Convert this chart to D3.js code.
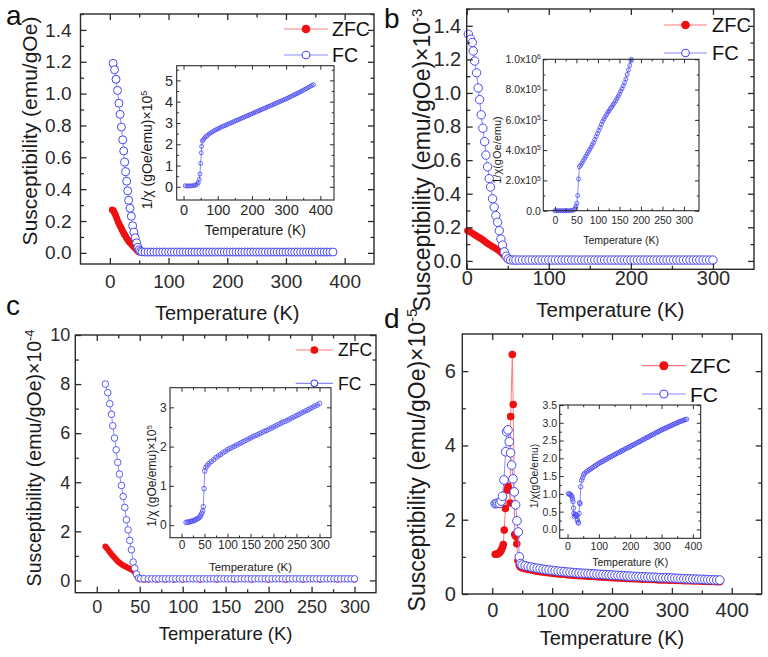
<!DOCTYPE html>
<html>
<head>
<meta charset="utf-8">
<script src="https://cdn.jsdelivr.net/npm/d3@7"></script>
<style>
  body { margin: 0; background: #fff; }
  svg { font-family: "Liberation Sans", Arial, sans-serif; }
</style>
</head>
<body>
<svg id="fig" width="768" height="657"></svg>
<script>
// ---- data: [temperature (K), value] ----
// panel a  (emu/gOe)
const aZfc = [[4,0.27],[6,0.265],[8,0.25],[10,0.235],[12,0.215],[14,0.195],[16,0.18],[18,0.165],[20,0.15],[22,0.135],[24,0.12],[26,0.11],[28,0.095],[30,0.085],[32,0.075],[34,0.065],[36,0.058],[38,0.05],[40,0.042],[42,0.035],[44,0.027],[46,0.018],[48,0.01],[50,0.005],[53,0.002],[60,0.001],[70,0.001],[80,0.001],[90,0.001],[100,0.001],[120,0.001],[140,0.001],[160,0.001],[180,0.001],[200,0.001],[220,0.001],[240,0.001],[260,0.001],[280,0.001],[300,0.001],[320,0.001],[340,0.001],[360,0.001],[380,0.001]]
const aFc = [[5.6,1.19],[8,1.15],[10.5,1.09],[13,1.02],[15.5,0.94],[17.5,0.87],[19.7,0.79],[22,0.71],[23.6,0.64],[25.3,0.57],[27,0.51],[28.7,0.45],[30.4,0.39],[32,0.33],[34.3,0.28],[36.6,0.23],[38.9,0.17],[41,0.13],[43.3,0.095],[45.6,0.063],[47.8,0.035],[50,0.019],[52.4,0.01],[55,0.006],
  [60,0.005],[65,0.005],[70,0.005],[75,0.005],[80,0.005],[85,0.005],[90,0.005],[95,0.005],[100,0.005],[105,0.005],[110,0.005],[115,0.005],[120,0.005],[125,0.005],[130,0.005],[135,0.005],[140,0.005],[145,0.005],[150,0.005],[155,0.005],[160,0.005],[165,0.005],[170,0.005],[175,0.005],[180,0.005],[185,0.005],[190,0.005],[195,0.005],[200,0.005],[205,0.005],[210,0.005],[215,0.005],[220,0.005],[225,0.005],[230,0.005],[235,0.005],[240,0.005],[245,0.005],[250,0.005],[255,0.005],[260,0.005],[265,0.005],[270,0.005],[275,0.005],[280,0.005],[285,0.005],[290,0.005],[295,0.005],[300,0.005],[305,0.005],[310,0.005],[315,0.005],[320,0.005],[325,0.005],[330,0.005],[335,0.005],[340,0.005],[345,0.005],[350,0.005],[355,0.005],[360,0.005],[365,0.005],[370,0.005],[375,0.005],[380,0.005]]
const aInv = [[5,0.05],[10,0.04],[15,0.04],[20,0.04],[25,0.05],[30,0.06],[35,0.08],[40,0.12],[43,0.2],[46,0.35],[48,0.6],[50,1.1],[52,1.6],[53,1.9],[55,2.15],[58,2.22],[62,2.3],[66,2.36],[70,2.42],[75,2.48],[80,2.54],[85,2.59],[90,2.64],[95,2.68],[100,2.72],[105,2.76],[110,2.8],[115,2.84],[120,2.87],[125,2.91],[130,2.94],[135,2.98],[140,3.01],[145,3.05],[150,3.08],[155,3.12],[160,3.15],[165,3.19],[170,3.22],[175,3.26],[180,3.29],[185,3.33],[190,3.36],[195,3.4],[200,3.43],[205,3.47],[210,3.5],[215,3.54],[220,3.57],[225,3.61],[230,3.64],[235,3.68],[240,3.71],[245,3.75],[250,3.78],[255,3.82],[260,3.85],[265,3.89],[270,3.92],[275,3.96],[280,3.99],[285,4.03],[290,4.06],[295,4.1],[300,4.13],[305,4.17],[310,4.21],[315,4.25],[320,4.29],[325,4.33],[330,4.37],[335,4.41],[340,4.45],[345,4.49],[350,4.53],[355,4.58],[360,4.62],[365,4.67],[370,4.71],[375,4.76],[380,4.8]]

// panel b  (x 1e-3 emu/gOe)
const bZfc = [[1,0.18],[3,0.177],[5,0.17],[7,0.164],[9,0.158],[11,0.152],[13,0.146],[15,0.14],[17,0.134],[19,0.128],[21,0.12],[23,0.112],[25,0.105],[27,0.099],[29,0.093],[31,0.087],[33,0.081],[35,0.075],[37,0.069],[39,0.062],[41,0.055],[43,0.045],[45,0.035],[47,0.024],[49,0.012],[51,0.005],[54,0.002],[60,0.001],[70,0.001],[80,0.001],[90,0.001],[100,0.001],[120,0.001],[140,0.001],[160,0.001],[180,0.001],[200,0.001],[220,0.001],[240,0.001],[260,0.001],[280,0.001],[300,0.001]]
const bFc = [[2,1.35],[4.8,1.32],[6.8,1.3],[8,1.25],[9.7,1.19],[12,1.12],[14,1.03],[15.7,0.96],[17.7,0.87],[19.7,0.79],[21.8,0.71],[23.4,0.63],[25.4,0.56],[27.4,0.49],[29,0.44],[31.5,0.37],[33.5,0.32],[35.5,0.27],[37.6,0.23],[39.7,0.18],[41.7,0.13],[43.7,0.094],[45.8,0.054],[48.2,0.028],[50.6,0.012],[53.5,0.006],[57,0.005],
  [60,0.005],[64,0.005],[68,0.005],[72,0.005],[76,0.005],[80,0.005],[84,0.005],[88,0.005],[92,0.005],[96,0.005],[100,0.005],[104,0.005],[108,0.005],[112,0.005],[116,0.005],[120,0.005],[124,0.005],[128,0.005],[132,0.005],[136,0.005],[140,0.005],[144,0.005],[148,0.005],[152,0.005],[156,0.005],[160,0.005],[164,0.005],[168,0.005],[172,0.005],[176,0.005],[180,0.005],[184,0.005],[188,0.005],[192,0.005],[196,0.005],[200,0.005],[204,0.005],[208,0.005],[212,0.005],[216,0.005],[220,0.005],[224,0.005],[228,0.005],[232,0.005],[236,0.005],[240,0.005],[244,0.005],[248,0.005],[252,0.005],[256,0.005],[260,0.005],[264,0.005],[268,0.005],[272,0.005],[276,0.005],[280,0.005],[284,0.005],[288,0.005],[292,0.005],[296,0.005],[300,0.005]]
const bInv = [[0,0],[4,0],[8,0],[12,0],[16,0],[20,0],[24,0],[28,0],[32,0],[36,0],[40,2e3],[44,6e3],[47,1.5e4],[49,3e4],[51,5e4],[53,1e5],[55,2.1e5],[57,2.9e5],[60,3.0e5],[63,3.15e5],[66,3.3e5],[69,3.45e5],[72,3.6e5],[75,3.75e5],[78,3.9e5],[81,4.05e5],[84,4.2e5],[87,4.35e5],[90,4.5e5],[93,4.7e5],[96,4.9e5],[99,5.1e5],[102,5.3e5],[105,5.5e5],[108,5.7e5],[111,5.9e5],[114,6.05e5],[117,6.2e5],[120,6.35e5],[123,6.5e5],[126,6.6e5],[129,6.75e5],[132,6.85e5],[135,7.0e5],[138,7.1e5],[141,7.25e5],[144,7.4e5],[147,7.55e5],[150,7.7e5],[153,7.9e5],[156,8.05e5],[159,8.25e5],[162,8.45e5],[165,8.7e5],[168,9.0e5],[171,9.3e5],[174,9.6e5],[177,9.9e5],[178,1.0e6]]

// panel c  (x 1e-4 emu/gOe)
const cZfc = [[10,1.38],[12,1.3],[14,1.21],[16,1.12],[18,1.03],[20,0.95],[22,0.87],[24,0.79],[26,0.73],[28,0.68],[30,0.63],[32,0.59],[34,0.56],[36,0.52],[38,0.49],[40,0.46],[42,0.41],[44,0.34],[46,0.22],[48,0.1],[50,0.04],[55,0.03],[60,0.03],[70,0.03],[80,0.03],[90,0.03],[100,0.03],[120,0.03],[140,0.03],[160,0.03],[180,0.03],[200,0.03],[220,0.03],[240,0.03],[260,0.03],[280,0.03],[300,0.03]]
const cFc = [[10,8.0],[12.8,7.65],[15.1,7.2],[17.1,6.77],[18.6,6.3],[20.6,5.8],[22.6,5.32],[24.4,4.81],[26.4,4.33],[28.7,3.87],[30.7,3.42],[32.6,2.97],[34.5,2.47],[36.5,2.06],[38.4,1.63],[40.3,1.25],[42.3,0.75],[44.2,0.5],[46.2,0.26],[48.8,0.1],[51,0.07],[55,0.07],
  [60,0.065],[64,0.065],[68,0.065],[72,0.065],[76,0.065],[80,0.065],[84,0.065],[88,0.065],[92,0.065],[96,0.065],[100,0.065],[104,0.065],[108,0.065],[112,0.065],[116,0.065],[120,0.065],[124,0.065],[128,0.065],[132,0.065],[136,0.065],[140,0.065],[144,0.065],[148,0.065],[152,0.065],[156,0.065],[160,0.065],[164,0.065],[168,0.065],[172,0.065],[176,0.065],[180,0.065],[184,0.065],[188,0.065],[192,0.065],[196,0.065],[200,0.065],[204,0.065],[208,0.065],[212,0.065],[216,0.065],[220,0.065],[224,0.065],[228,0.065],[232,0.065],[236,0.065],[240,0.065],[244,0.065],[248,0.065],[252,0.065],[256,0.065],[260,0.065],[264,0.065],[268,0.065],[272,0.065],[276,0.065],[280,0.065],[284,0.065],[288,0.065],[292,0.065],[296,0.065],[300,0.065]]
const cInv = [[10,0.07],[13,0.075],[16,0.08],[19,0.09],[22,0.1],[25,0.11],[28,0.12],[31,0.14],[34,0.16],[37,0.18],[40,0.21],[42,0.25],[44,0.3],[46,0.36],[47.5,0.47],[49,0.93],[50.5,1.38],[53,1.47],[56,1.52],[60,1.57],[65,1.62],[70,1.67],[75,1.72],[80,1.76],[85,1.8],[90,1.84],[95,1.88],[100,1.92],[105,1.95],[110,1.98],[115,2.01],[120,2.04],[125,2.07],[130,2.1],[135,2.13],[140,2.16],[145,2.19],[150,2.22],[155,2.25],[160,2.28],[165,2.3],[170,2.33],[175,2.36],[180,2.39],[185,2.41],[190,2.44],[195,2.47],[200,2.5],[205,2.53],[210,2.56],[215,2.59],[220,2.62],[225,2.64],[230,2.67],[235,2.7],[240,2.73],[245,2.76],[250,2.79],[255,2.82],[260,2.85],[265,2.88],[270,2.91],[275,2.94],[280,2.97],[285,3.0],[290,3.03],[295,3.06],[300,3.1]]

// panel d  (x 1e-5 emu/gOe)
const dZfc = [[5,1.07],[7,1.07],[9,1.08],[11,1.1],[13,1.13],[15,1.18],[17,1.25],[18.5,1.33],[20,1.72],[22,2.3],[24.5,2.8],[26.5,2.9],[28.5,2.8],[30,2.45],[30.8,4.78],[33.5,6.45],[35,5.1],[37.5,1.6],[39.5,1.55],[41,1.35],[43,0.9],[45,0.78],[47,0.73],
  [50,0.7],[55,0.68],[60,0.66],[65,0.645],[70,0.63],[75,0.615],[80,0.6],[85,0.59],[90,0.58],[95,0.57],[100,0.56],[105,0.55],[110,0.54],[115,0.535],[120,0.53],[125,0.52],[130,0.51],[135,0.505],[140,0.5],[145,0.495],[150,0.49],[155,0.485],[160,0.48],[165,0.475],[170,0.47],[175,0.465],[180,0.46],[185,0.455],[190,0.45],[195,0.445],[200,0.44],[205,0.435],[210,0.43],[215,0.428],[220,0.425],[225,0.42],[230,0.415],[235,0.412],[240,0.41],[245,0.405],[250,0.4],[255,0.398],[260,0.395],[265,0.392],[270,0.39],[275,0.385],[280,0.38],[285,0.378],[290,0.375],[295,0.372],[300,0.37],[305,0.368],[310,0.365],[315,0.362],[320,0.36],[325,0.358],[330,0.355],[335,0.352],[340,0.35],[345,0.348],[350,0.345],[355,0.342],[360,0.34],[365,0.338],[370,0.335],[375,0.332],[380,0.33]]
const dFc = [[5,2.43],[7,2.44],[9.5,2.44],[12.5,2.44],[15,2.5],[17,2.63],[19.5,3.07],[22.4,3.83],[24,4.37],[26.3,4.42],[28.5,4.1],[30.7,3.8],[32.4,3.47],[34.6,3.1],[36.8,2.75],[39,2.4],[41.3,1.97],[43.5,1.67],[45.2,1.0],[47.5,0.82],
  [50,0.78],[55,0.76],[60,0.74],[65,0.725],[70,0.71],[75,0.695],[80,0.68],[85,0.667],[90,0.655],[95,0.645],[100,0.635],[105,0.625],[110,0.615],[115,0.607],[120,0.6],[125,0.592],[130,0.585],[135,0.578],[140,0.57],[145,0.565],[150,0.56],[155,0.555],[160,0.55],[165,0.545],[170,0.54],[175,0.535],[180,0.53],[185,0.525],[190,0.52],[195,0.515],[200,0.51],[205,0.505],[210,0.5],[215,0.495],[220,0.49],[225,0.485],[230,0.48],[235,0.475],[240,0.47],[245,0.467],[250,0.465],[255,0.46],[260,0.455],[265,0.452],[270,0.45],[275,0.445],[280,0.44],[285,0.437],[290,0.435],[295,0.432],[300,0.43],[305,0.425],[310,0.42],[315,0.415],[320,0.41],[325,0.407],[330,0.405],[335,0.402],[340,0.4],[345,0.397],[350,0.395],[355,0.39],[360,0.385],[365,0.382],[370,0.38],[375,0.377],[380,0.375]]
const dInv = [[3,1.0],[6,1.0],[9,0.98],[12,0.95],[14,0.92],[16,0.85],[17.5,0.78],[19,0.6],[20,0.45],[22,0.36],[24,0.42],[26,0.4],[28,0.38],[30,0.4],[31.5,0.26],[33.5,0.2],[35,0.18],[37,0.45],[38.5,0.75],[40,0.72],[42,1.2],[45,1.38],[48,1.45],[51,1.53],[55,1.58],[60,1.62],[65,1.65],[70,1.68],[75,1.71],[80,1.74],[85,1.77],[90,1.8],[95,1.83],[100,1.86],[105,1.88],[110,1.91],[115,1.93],[120,1.96],[125,1.98],[130,2.01],[135,2.03],[140,2.05],[145,2.08],[150,2.1],[155,2.13],[160,2.15],[165,2.17],[170,2.2],[175,2.22],[180,2.24],[185,2.27],[190,2.29],[195,2.31],[200,2.33],[205,2.36],[210,2.38],[215,2.4],[220,2.43],[225,2.45],[230,2.47],[235,2.5],[240,2.52],[245,2.54],[250,2.57],[255,2.59],[260,2.61],[265,2.64],[270,2.66],[275,2.68],[280,2.71],[285,2.73],[290,2.75],[295,2.78],[300,2.8],[305,2.82],[310,2.84],[315,2.86],[320,2.88],[325,2.9],[330,2.92],[335,2.94],[340,2.96],[345,2.98],[350,3.0],[355,3.02],[360,3.04],[365,3.05],[370,3.07],[375,3.09],[380,3.1]]

// ---- tick values ----
const tK400 = [0, 100, 200, 300, 400], tK400m = [50, 150, 250, 350]
const tK300 = [0, 100, 200, 300], tK300m = [50, 150, 250]
const tK50 = [0, 50, 100, 150, 200, 250, 300], tK50m = [25, 75, 125, 175, 225, 275]
const aY = [0, 0.2, 0.4, 0.6, 0.8, 1.0, 1.2, 1.4], aYm = [0.1, 0.3, 0.5, 0.7, 0.9, 1.1, 1.3, 1.5]
const aInvY = [0, 1, 2, 3, 4, 5], aInvYm = [0.5, 1.5, 2.5, 3.5, 4.5, 5.5]
const bInvY = [0, 2e5, 4e5, 6e5, 8e5, 1e6], bInvYm = [1e5, 3e5, 5e5, 7e5, 9e5]
const cY = [0, 2, 4, 6, 8, 10], cYm = [1, 3, 5, 7, 9]
const cInvY = [0, 1, 2, 3], cInvYm = [0.5, 1.5, 2.5]
const dY = [0, 2, 4, 6], dYm = [1, 3, 5]
const dInvY = [0, 0.5, 1.0, 1.5, 2.0, 2.5, 3.0, 3.5], dInvYm = [0.25, 0.75, 1.25, 1.75, 2.25, 2.75, 3.25]

const RED = "#f01010", RED_LINE = "#ff7a7a"
const BLUE = "#4848f4", BLUE_LINE = "#8a8aff"

const svg = d3.select("#fig")

// text with optional superscript parts: [[text, isSup], ...]
function richText(sel, parts) {
  parts.forEach(([t, sup]) => {
    const ts = sel.append("tspan").text(t)
    if (sup) ts.attr("dy", "-0.55em").style("font-size", "0.65em")
  })
  return sel
}

function sciFormat(v) {
  if (v === 0) return [["0.0", false]]
  const e = Math.floor(Math.log10(v))
  return [[(v / Math.pow(10, e)).toFixed(1) + "x10", false], [String(e), true]]
}

function drawAxes(g, x, y, box, o) {
  const mk = (axisFn, scale, vals, size, label, fmt, pad, tr) => {
    const ax = axisFn(scale).tickValues(vals).tickSizeInner(-size).tickSizeOuter(0)
      .tickPadding(pad).tickFormat(label ? fmt : "")
    const ag = g.append("g").attr("transform", tr).attr("color", "#2a2a2a").call(ax)
    ag.select(".domain").remove()
    ag.selectAll("line").attr("stroke-width", o.tw)
    ag.selectAll("text").style("font-size", o.fs + "px").attr("font-family", null)
    return ag
  }
  const bottom = `translate(0,${box[3]})`, top = `translate(0,${box[1]})`
  const left = `translate(${box[0]},0)`, right = `translate(${box[2]},0)`
  mk(d3.axisBottom, x, o.xt, o.maj, true, o.xf, o.xpad, bottom)
  mk(d3.axisBottom, x, o.xm, o.min, false, null, 0, bottom)
  mk(d3.axisTop, x, o.xt, o.maj, false, null, 0, top)
  mk(d3.axisTop, x, o.xm, o.min, false, null, 0, top)
  const yl = mk(d3.axisLeft, y, o.yt, o.maj, true, o.yf, o.ypad, left)
  mk(d3.axisLeft, y, o.ym, o.min, false, null, 0, left)
  mk(d3.axisRight, y, o.yt, o.maj, false, null, 0, right)
  mk(d3.axisRight, y, o.ym, o.min, false, null, 0, right)
  if (o.ysci) {
    yl.selectAll("text").each(function (d) {
      const t = d3.select(this).text(null)
      richText(t, sciFormat(d))
    })
  }
}

function drawSeries(g, x, y, data, s) {
  const line = d3.line().x(d => x(d[0])).y(d => y(d[1]))
  g.append("path").datum(data).attr("d", line)
    .attr("fill", "none").attr("stroke", s.filled ? RED_LINE : BLUE_LINE).attr("stroke-width", 1)
  g.append("g").selectAll("circle").data(data).join("circle")
    .attr("cx", d => x(d[0])).attr("cy", d => y(d[1])).attr("r", s.r)
    .attr("fill", s.filled ? RED : (s.fill || "none"))
    .attr("stroke", s.filled ? RED : BLUE).attr("stroke-width", s.filled ? 0 : s.sw)
}

function drawPlot(p) {
  const box = p.box
  const x = d3.scaleLinear().domain(p.xDom).range([box[0], box[2]])
  const y = d3.scaleLinear().domain(p.yDom).range([box[3], box[1]])
  const g = svg.append("g")
  g.append("rect").attr("x", box[0]).attr("y", box[1])
    .attr("width", box[2] - box[0]).attr("height", box[3] - box[1]).attr("fill", "#fff")
  p.series.forEach(s => drawSeries(g, x, y, s.data, s))
  drawAxes(g, x, y, box, p)
  g.append("rect").attr("x", box[0]).attr("y", box[1])
    .attr("width", box[2] - box[0]).attr("height", box[3] - box[1])
    .attr("fill", "none").attr("stroke", "#2a2a2a").attr("stroke-width", p.fw)
  // axis titles
  g.append("text").attr("x", (box[0] + box[2]) / 2 + (p.xtDx || 0)).attr("y", p.xtY)
    .attr("text-anchor", "middle").style("font-size", p.tfs + "px").attr("fill", "#1a1a1a")
    .text("Temperature (K)")
  const yt = g.append("text").attr("transform", `translate(${p.ytX},${p.ytY}) rotate(-90)`)
    .attr("text-anchor", "middle").style("font-size", p.yfs + "px").attr("fill", "#1a1a1a")
  richText(yt, p.ytitle)
  // legend
  if (p.legend) {
    const L = p.legend
    const items = [{ name: "ZFC", filled: true, yy: L.y1 }, { name: "FC", filled: false, yy: L.y2 }]
    items.forEach(it => {
      g.append("line").attr("x1", L.x1).attr("x2", L.x2).attr("y1", it.yy).attr("y2", it.yy)
        .attr("stroke", it.filled ? RED_LINE : BLUE_LINE).attr("stroke-width", 1.2)
      g.append("circle").attr("cx", (L.x1 + L.x2) / 2).attr("cy", it.yy).attr("r", L.r)
        .attr("fill", it.filled ? RED : "#fff").attr("stroke", it.filled ? RED : BLUE).attr("stroke-width", 1.1)
      g.append("text").attr("x", L.tx).attr("y", it.yy).attr("dy", "0.36em")
        .style("font-size", L.fs + "px").attr("fill", "#111").text(it.name)
    })
  }
}

const fmt1 = d3.format(".1f"), fmt0 = d3.format("d")

// ---------- panel a ----------
drawPlot({
  box: [80.5, 14, 374, 264], xDom: [-50, 450], yDom: [-0.07, 1.5],
  xt: tK400, xm: tK400m, yt: aY, ym: aYm, xf: fmt0, yf: fmt1,
  maj: 6, min: 3.5, tw: 1.3, fw: 1.4, fs: 19, xpad: 11, ypad: 9,
  tfs: 20, xtY: 320, yfs: 21, ytX: 37, ytY: 131,
  ytitle: [["Susceptibility (emu/gOe)", false]],
  series: [{ data: aZfc, filled: true, r: 3.4 }, { data: aFc, filled: false, fill: "#fff", r: 4, sw: 1 }],
  legend: { x1: 284, x2: 328, tx: 332, y1: 29, y2: 55, r: 3.8, fs: 19.5 }
})
drawPlot({
  box: [176.7, 65.7, 334, 200], xDom: [-20, 440], yDom: [-0.62, 5.69],
  xt: tK400, xm: tK400m, yt: aInvY, ym: aInvYm, xf: fmt0, yf: fmt0,
  maj: 4, min: 2.2, tw: 1, fw: 1.1, fs: 14.5, xpad: 5, ypad: 3.5,
  tfs: 14, xtY: 235, yfs: 14, ytX: 152, ytY: 150,
  ytitle: [["1/χ (gOe/emu)×10", false], ["5", true]],
  series: [{ data: aInv, filled: false, r: 2, sw: 0.8 }]
})

// ---------- panel b ----------
drawPlot({
  box: [466.7, 9, 754, 269.3], xDom: [0, 350], yDom: [-0.05, 1.5],
  xt: tK300, xm: tK300m, yt: aY, ym: aYm, xf: fmt0, yf: fmt1,
  maj: 6, min: 3.5, tw: 1.3, fw: 1.4, fs: 20, xpad: 1.5, ypad: 5.5,
  tfs: 20.5, xtY: 317, yfs: 23, ytX: 430, ytY: 160,
  ytitle: [["Susceptibility (emu/gOe)×10", false], ["-3", true]],
  series: [{ data: bZfc, filled: true, r: 3.4 }, { data: bFc, filled: false, fill: "#fff", r: 4.2, sw: 1 }],
  legend: { x1: 664, x2: 707, tx: 712, y1: 25, y2: 53, r: 3.8, fs: 20 }
})
drawPlot({
  box: [543.3, 59.3, 699, 210.7], xDom: [-27, 335], yDom: [0, 1e6],
  xt: tK50, xm: tK50m, yt: bInvY, ym: bInvYm, xf: fmt0, yf: fmt1, ysci: true,
  maj: 4, min: 2.2, tw: 1, fw: 1.1, fs: 10.5, xpad: 5.5, ypad: 2.5,
  tfs: 10.5, xtY: 244, yfs: 11, ytX: 501, ytY: 150,
  ytitle: [["1/χ(gOe/emu)", false]],
  series: [{ data: bInv, filled: false, r: 2, sw: 0.8 }]
})

// ---------- panel c ----------
drawPlot({
  box: [75.3, 335, 376, 592.7], xDom: [-25, 325], yDom: [-0.5, 10],
  xt: tK50, xm: tK50m, yt: cY, ym: cYm, xf: fmt0, yf: fmt0,
  maj: 6, min: 3.5, tw: 1.3, fw: 1.4, fs: 18, xpad: 8, ypad: 5,
  tfs: 18.5, xtY: 640, yfs: 19.5, ytX: 41, ytY: 458,
  ytitle: [["Susceptibility (emu/gOe)×10", false], ["-4", true]],
  series: [{ data: cZfc, filled: true, r: 3 }, { data: cFc, filled: false, fill: "#fff", r: 3.3, sw: 0.9 }],
  legend: { x1: 295.7, x2: 333, tx: 338, y1: 350, y2: 383.3, r: 3.3, fs: 17.5 }
})
drawPlot({
  box: [170, 387.7, 331, 537.7], xDom: [-25, 325], yDom: [-0.32, 3.5],
  xt: tK50, xm: tK50m, yt: cInvY, ym: cInvYm, xf: fmt0, yf: fmt0,
  maj: 4, min: 2.2, tw: 1, fw: 1.1, fs: 12, xpad: 3, ypad: 3.3,
  tfs: 11.5, xtY: 571, yfs: 12, ytX: 156, ytY: 476,
  ytitle: [["1/χ (gOe/emu)×10", false], ["5", true]],
  series: [{ data: cInv, filled: false, r: 2.3, sw: 0.8 }]
})

// ---------- panel d ----------
drawPlot({
  box: [462.3, 334, 761.7, 594], xDom: [-50, 450], yDom: [0, 7],
  xt: tK400, xm: tK400m, yt: dY, ym: dYm, xf: fmt0, yf: fmt0,
  maj: 6, min: 3.5, tw: 1.3, fw: 1.4, fs: 20, xpad: 9, ypad: 6.5,
  tfs: 20, xtY: 645, yfs: 23, ytX: 425, ytY: 460,
  ytitle: [["Susceptibility (emu/gOe)×10", false], ["-5", true]],
  series: [{ data: dZfc, filled: true, r: 3.8 }, { data: dFc, filled: false, fill: "#fff", r: 4.3, sw: 1 }],
  legend: { x1: 642, x2: 685.7, tx: 690, y1: 365.7, y2: 394, r: 4, fs: 21 }
})
drawPlot({
  box: [559.7, 405, 700.7, 538.3], xDom: [-25, 425], yDom: [-0.25, 3.5],
  xt: tK400, xm: tK400m, yt: dInvY, ym: dInvYm, xf: fmt0, yf: fmt1,
  maj: 4, min: 2.2, tw: 1, fw: 1.1, fs: 10.5, xpad: 4.5, ypad: 2.5,
  tfs: 10.5, xtY: 566, yfs: 10.5, ytX: 538, ytY: 476,
  ytitle: [["1/χ(gOe/emu)", false]],
  series: [{ data: dInv, filled: false, r: 2.2, sw: 0.8 }]
})

// panel letters
const letters = [["a", 6, 24.5], ["b", 384, 28], ["c", 6, 315], ["d", 384, 328]]
svg.selectAll("text.letter").data(letters).join("text").attr("class", "letter")
  .attr("x", d => d[1]).attr("y", d => d[2]).style("font-size", "28px").attr("fill", "#111")
  .text(d => d[0])
</script>
</body>
</html>
